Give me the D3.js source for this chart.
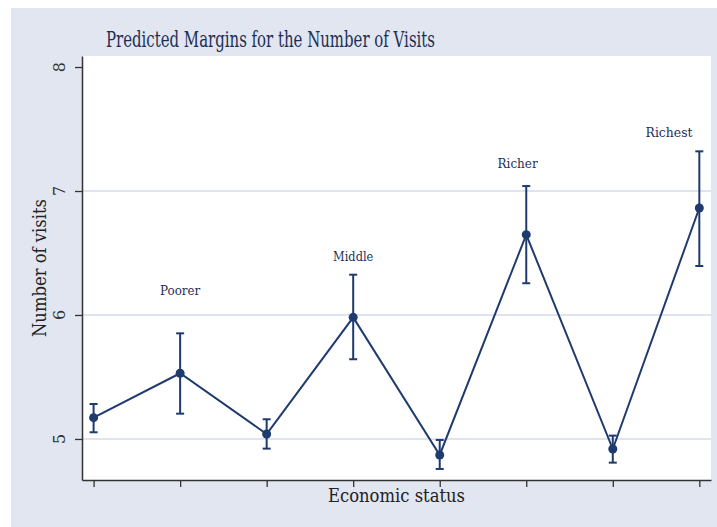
<!DOCTYPE html>
<html>
<head>
<meta charset="utf-8">
<script src="https://cdn.jsdelivr.net/npm/d3@7"></script>
<style>
  body { margin: 0; background: #fff; }
  text { font-family: "DejaVu Serif", "Liberation Serif", serif; }
</style>
</head>
<body>
<div class="chart"></div>
<script>
// groups along the x axis (1..8) and predicted margins with 95% CI
var groups = [1, 2, 3, 4, 5, 6, 7, 8];
var margins = [5.172, 5.530, 5.040, 5.981, 4.871, 6.648, 4.919, 6.863];
var ciLow  = [5.054, 5.204, 4.922, 5.643, 4.758, 6.256, 4.809, 6.395];
var ciHigh = [5.282, 5.852, 5.159, 6.325, 4.992, 7.040, 5.027, 7.320];

var yTicks = [5, 6, 7, 8];
var gridTicks = [5, 6, 7];

// text annotations placed in data space
var noteLabels = ["Poorer", "Middle", "Richer", "Richest"];
var noteX = [2.0, 4.0, 5.9, 7.65];
var noteY = [6.19, 6.465, 7.22, 7.47];

var width = 717,
    height = 527;

var navy = "#1f3b6e";

var svg = d3.select(".chart").append("svg")
    .attr("width", width)
    .attr("height", height);

// outer graph region
svg.append("rect")
    .attr("x", 11)
    .attr("y", 8)
    .attr("width", width - 11)
    .attr("height", height - 8)
    .style("fill", "#e1e6f0");

var pLeft = 82, pRight = 711, pTop = 56, pBottom = 480;

svg.append("rect")
    .attr("x", pLeft)
    .attr("y", pTop)
    .attr("width", pRight - pLeft)
    .attr("height", pBottom - pTop)
    .style("fill", "white");

var x = d3.scaleLinear().domain([0.866, 8.135]).range([pLeft, pRight]);
var y = d3.scaleLinear().domain([4.669, 8.089]).range([pBottom, pTop]);

// gridlines
svg.selectAll(".grid")
    .data(gridTicks)
    .enter().append("line")
    .attr("x1", pLeft)
    .attr("x2", pRight)
    .attr("y1", d => y(d))
    .attr("y2", d => y(d))
    .style("stroke", "#dfe4ee")
    .style("stroke-width", 2);

// y axis
var yAxis = svg.append("g")
    .attr("transform", `translate(${pLeft},0)`)
    .call(d3.axisLeft(y).tickValues(yTicks).tickSize(7).tickSizeOuter(0).tickFormat(""));

yAxis.select(".domain").style("stroke", "#333").style("stroke-width", 1.5);
yAxis.selectAll(".tick line").style("stroke", "#333").style("stroke-width", 1.3);

svg.selectAll(".ylab")
    .data(yTicks)
    .enter().append("text")
    .attr("transform", d => `translate(65,${y(d)}) rotate(-90)`)
    .attr("text-anchor", "middle")
    .style("font-size", "16px")
    .style("fill", "#333")
    .text(d => d);

// x axis
var xAxis = svg.append("g")
    .attr("transform", `translate(0,${pBottom})`)
    .call(d3.axisBottom(x).tickValues(groups).tickSize(7).tickSizeOuter(0).tickFormat(""));

xAxis.select(".domain").style("stroke", "#333").style("stroke-width", 1.5);
xAxis.selectAll(".tick line").style("stroke", "#333").style("stroke-width", 1.3);

// titles
svg.append("text")
    .attr("x", 270.5)
    .attr("y", 47)
    .attr("text-anchor", "middle")
    .attr("textLength", 329)
    .attr("lengthAdjust", "spacingAndGlyphs")
    .style("font-size", "23px")
    .style("fill", "#1e2f55")
    .text("Predicted Margins for the Number of Visits");

svg.append("text")
    .attr("transform", "translate(46,268) rotate(-90)")
    .attr("text-anchor", "middle")
    .attr("textLength", 138)
    .attr("lengthAdjust", "spacingAndGlyphs")
    .style("font-size", "18px")
    .style("fill", "#222")
    .text("Number of visits");

svg.append("text")
    .attr("x", 396.5)
    .attr("y", 502)
    .attr("text-anchor", "middle")
    .attr("textLength", 137)
    .attr("lengthAdjust", "spacingAndGlyphs")
    .style("font-size", "18px")
    .style("fill", "#222")
    .text("Economic status");

// connecting line
var line = d3.line()
    .x((d, i) => x(groups[i]))
    .y(d => y(d));

svg.append("path")
    .datum(margins)
    .attr("d", line)
    .style("fill", "none")
    .style("stroke", navy)
    .style("stroke-width", 2);

// error bars
var bars = svg.selectAll(".ci")
    .data(groups)
    .enter().append("g");

bars.append("line")
    .attr("x1", d => x(d))
    .attr("x2", d => x(d))
    .attr("y1", (d, i) => y(ciLow[i]))
    .attr("y2", (d, i) => y(ciHigh[i]))
    .style("stroke", navy)
    .style("stroke-width", 2);

bars.append("line")
    .attr("x1", d => x(d) - 4)
    .attr("x2", d => x(d) + 4)
    .attr("y1", (d, i) => y(ciLow[i]))
    .attr("y2", (d, i) => y(ciLow[i]))
    .style("stroke", navy)
    .style("stroke-width", 2);

bars.append("line")
    .attr("x1", d => x(d) - 4)
    .attr("x2", d => x(d) + 4)
    .attr("y1", (d, i) => y(ciHigh[i]))
    .attr("y2", (d, i) => y(ciHigh[i]))
    .style("stroke", navy)
    .style("stroke-width", 2);

// markers
svg.selectAll(".pt")
    .data(margins)
    .enter().append("circle")
    .attr("cx", (d, i) => x(groups[i]))
    .attr("cy", d => y(d))
    .attr("r", 4.5)
    .style("fill", navy);

// annotations
svg.selectAll(".note")
    .data(noteLabels)
    .enter().append("text")
    .attr("x", (d, i) => x(noteX[i]))
    .attr("y", (d, i) => y(noteY[i]) + 4)
    .attr("text-anchor", "middle")
    .attr("textLength", d => d.length * 6.7)
    .attr("lengthAdjust", "spacingAndGlyphs")
    .style("font-size", "12px")
    .style("fill", "#1e2f55")
    .text(d => d);
</script>
</body>
</html>
